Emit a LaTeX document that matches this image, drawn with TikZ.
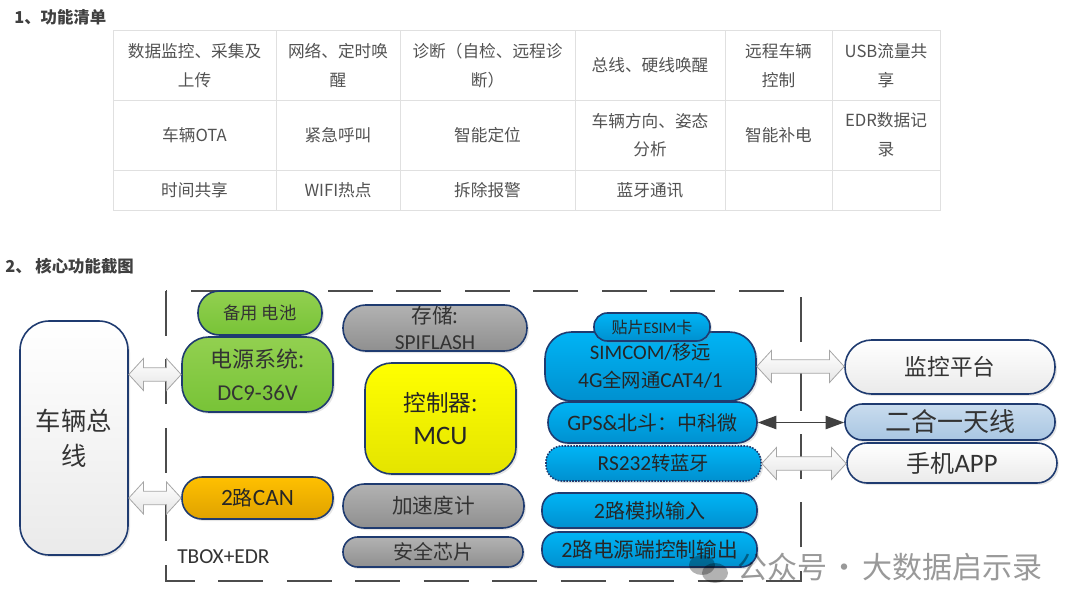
\documentclass[tikz,border=0pt]{standalone}
\usepackage{fontspec}
\setmainfont{Noto Sans CJK SC}
\newfontfamily\lat{Carlito}
\usetikzlibrary{arrows.meta,shadows,calc}
\definecolor{boxgreenA}{HTML}{92D050}
\definecolor{boxgreenB}{HTML}{78C337}
\definecolor{boxgrayA}{HTML}{B2B2B2}
\definecolor{boxgrayB}{HTML}{8F8F8F}
\definecolor{boxyellowB}{HTML}{E4E400}
\definecolor{boxorangeA}{HTML}{FFC000}
\definecolor{boxorangeB}{HTML}{DFA200}
\definecolor{boxblueA}{HTML}{00B4F5}
\definecolor{boxblueB}{HTML}{0090CF}
\definecolor{boxpaleB}{HTML}{EAEAEA}
\definecolor{boxskyA}{HTML}{C9DCEE}
\definecolor{boxskyB}{HTML}{A9C6E2}
\definecolor{boxline}{HTML}{1F3B70}
\tikzset{
  cell/.style 2 args={draw=black!12, line width=.75pt, inner sep=0pt, outer sep=0pt, align=center, text=black!68,
    minimum width=#1, minimum height=#2, font=\fontsize{12.5}{21.5}\selectfont},
  pill/.style n args={4}{draw=boxline, line width=1.2pt, rounded corners=#3, inner sep=0pt, align=center,
    minimum width=#1, minimum height=#2, drop shadow={shadow xshift=1.5pt, shadow yshift=-1.5pt, opacity=.2}, #4},
  greenbox/.style={top color=boxgreenA, bottom color=boxgreenB, text=black!80},
  graybox/.style={top color=boxgrayA, bottom color=boxgrayB, text=black!80},
  yellowbox/.style={top color=yellow, bottom color=boxyellowB, text=black!85},
  orangebox/.style={top color=boxorangeA, bottom color=boxorangeB, text=black!85},
  bluebox/.style={top color=boxblueA, bottom color=boxblueB, text=black!85},
  palebox/.style={top color=white, bottom color=boxpaleB, text=black!80},
  skybox/.style={top color=boxskyA, bottom color=boxskyB, text=black!80},
  blockarrow/.style={draw=black!35, line width=.6pt, top color=white, bottom color=black!10,
    to path={let \p1=(\tikztostart), \p2=(\tikztotarget) in
      (\x1,\y1) -- (\x1+11pt,\y1+12pt) -- (\x1+11pt,\y1+5pt) -- (\x2-11pt,\y1+5pt) -- (\x2-11pt,\y1+12pt)
      -- (\x2,\y1) -- (\x2-11pt,\y1-12pt) -- (\x2-11pt,\y1-5pt) -- (\x1+11pt,\y1-5pt) -- (\x1+11pt,\y1-12pt) -- cycle}},
  heading/.style={anchor=west, inner sep=0pt, text=black!75, font=\fontsize{12.3}{15}\selectfont\bfseries},
}
\begin{document}
\begin{tikzpicture}[x=0.75pt, y=-0.75pt]
\useasboundingbox (0,0) rectangle (1080,610);
% Headings
\node[heading] (headlist) at (14,17) {1、功能清单};
\node[heading] (headcore) at (5,266) {2、 核心功能截图};
% Table, first row
\node[cell={122.25pt}{51.75pt}] (c11) at (194.5,65.5) {数据监控、采集及\\上传};
\node[cell={93pt}{51.75pt}] (c12) at (338,65.5) {网络、定时唤\\醒};
\node[cell={131.25pt}{51.75pt}] (c13) at (487.5,65.5) {诊断（自检、远程诊\\断）};
\node[cell={112.5pt}{51.75pt}] (c14) at (650,65.5) {总线、硬线唤醒};
\node[cell={80.25pt}{51.75pt}] (c15) at (778.5,65.5) {远程车辆\\控制};
\node[cell={81pt}{51.75pt}] (c16) at (886,65.5) {USB流量共\\享};
% second row
\node[cell={122.25pt}{52.5pt}] (c21) at (194.5,135) {车辆OTA};
\node[cell={93pt}{52.5pt}] (c22) at (338,135) {紧急呼叫};
\node[cell={131.25pt}{52.5pt}] (c23) at (487.5,135) {智能定位};
\node[cell={112.5pt}{52.5pt}] (c24) at (650,135) {车辆方向、姿态\\分析};
\node[cell={80.25pt}{52.5pt}] (c25) at (778.5,135) {智能补电};
\node[cell={81pt}{52.5pt}] (c26) at (886,135) {EDR数据记\\录};
% third row
\node[cell={122.25pt}{30pt}] (c31) at (194.5,190) {时间共享};
\node[cell={93pt}{30pt}] (c32) at (338,190) {WIFI热点};
\node[cell={131.25pt}{30pt}] (c33) at (487.5,190) {拆除报警};
\node[cell={112.5pt}{30pt}] (c34) at (650,190) {蓝牙通讯};
\node[cell={80.25pt}{30pt}] (c35) at (778.5,190) {};
\node[cell={81pt}{30pt}] (c36) at (886,190) {};
% Dashed frame (behind the boxes)
\draw[black!70, line width=1.5pt, dash pattern=on 33.75pt off 17.6pt] (166,291) -- (166,581) -- (801,581) -- (801,291) -- cycle;
\node[anchor=west, inner sep=0pt, text=black!80, font=\lat\fontsize{16}{18}\selectfont] (tbox) at (177,557) {TBOX+EDR};
% Outer boxes
\node[pill={81pt}{175.5pt}{22pt}{palebox}, font=\fontsize{19}{26}\selectfont] (bus) at (74,438) {车辆总\\线};
\node[pill={157.5pt}{40.5pt}{20pt}{palebox}, font=\fontsize{17}{20}\selectfont] (monitor) at (950,367) {监控平台};
\node[pill={157.5pt}{27pt}{13pt}{skybox}, font=\fontsize{19.5}{22}\selectfont] (antenna) at (950,422) {二合一天线};
\node[pill={157.5pt}{30pt}{15pt}{palebox}, font=\fontsize{18}{20}\selectfont] (app) at (952,463) {手机{\lat\fontsize{20}{20}\selectfont APP}};
% Power and CAN
\node[pill={93pt}{33pt}{16pt}{greenbox}, font=\fontsize{13}{15}\selectfont] (backup) at (260,313) {备用 电池};
\node[pill={113.25pt}{56.25pt}{20pt}{greenbox}, font=\fontsize{16.5}{25}\selectfont] (power) at (257.5,374.5) {电源系统:\\{\lat\fontsize{17}{25}\selectfont DC9-36V}};
\node[pill={113.25pt}{31.5pt}{15pt}{orangebox}, font=\fontsize{15}{18}\selectfont] (can) at (257.5,498) {{\lat\fontsize{17.5}{18}\selectfont 2}路{\lat\fontsize{17.5}{18}\selectfont CAN}};
% Middle column
\node[pill={138pt}{34.5pt}{17pt}{graybox}, font=\fontsize{15.5}{20}\selectfont] (flash) at (435,328) {存储:\\{\lat\fontsize{16}{20}\selectfont SPIFLASH}};
\node[pill={113.25pt}{83.25pt}{20pt}{yellowbox}, font=\fontsize{17}{25}\selectfont] (mcu) at (440.5,418.5) {控制器:\\{\lat\fontsize{20}{25}\selectfont MCU}};
\node[pill={135.75pt}{33pt}{16pt}{graybox}, font=\fontsize{15.5}{18}\selectfont] (accel) at (433.5,506) {加速度计};
\node[pill={135pt}{22.5pt}{11pt}{graybox}, font=\fontsize{15}{18}\selectfont] (chip) at (433,552) {安全芯片};
% Right column
\node[pill={158.25pt}{51.75pt}{20pt}{bluebox}, font=\fontsize{14.5}{21}\selectfont] (modem) at (650.5,366.5) {{\lat\fontsize{15.5}{21}\selectfont SIMCOM/}移远\\{\lat\fontsize{16}{21}\selectfont 4G}全网通{\lat\fontsize{16}{21}\selectfont CAT4/1}};
\node[pill={87pt}{21pt}{10pt}{bluebox}, font=\fontsize{12}{14}\selectfont] (esim) at (652,327) {贴片{\lat ESIM}卡};
\node[pill={156.75pt}{30.75pt}{15pt}{bluebox}, font=\fontsize{15}{18}\selectfont] (gps) at (652.5,422.5) {{\lat\fontsize{16.5}{18}\selectfont GPS\&}北斗：中科微};
\node[pill={161.25pt}{26.25pt}{12pt}{bluebox}, densely dotted, font=\fontsize{14.5}{18}\selectfont] (bt) at (653.5,463.5) {{\lat\fontsize{16}{18}\selectfont RS232}转蓝牙};
\node[pill={161.25pt}{26.25pt}{12pt}{bluebox}, font=\fontsize{15}{18}\selectfont] (analog) at (649.5,510.5) {{\lat\fontsize{16.5}{18}\selectfont 2}路模拟输入};
\node[pill={161.25pt}{26.25pt}{12pt}{bluebox}, font=\fontsize{15.5}{18}\selectfont] (output) at (649.5,549.5) {{\lat\fontsize{16.5}{18}\selectfont 2}路电源端控制输出};
% Connectors
\draw[blockarrow] (bus.east |- power.west) to (power.west);
\draw[blockarrow] (bus.east |- can.west) to (can.west);
\draw[blockarrow] (modem.east) to (modem.east -| monitor.west);
\draw[blockarrow] (bt.east) to (bt.east -| app.west);
\draw[black!75, line width=1.3pt, {Triangle[length=14pt,width=10pt]}-{Triangle[length=14pt,width=10pt]}] (gps.east) -- (gps.east -| antenna.west);
% Watermark
\fill[black, opacity=.3] (702,565) ellipse (13 and 10);
\fill[black, opacity=.3] (715,573) ellipse (13 and 10);
\node[anchor=west, inner sep=0pt, text=black, opacity=.4, font=\fontsize{22.5}{24}\selectfont] (mark) at (737,567) {公众号\hspace{-3pt} · \hspace{-3pt}大数据启示录};
\end{tikzpicture}
\end{document}
